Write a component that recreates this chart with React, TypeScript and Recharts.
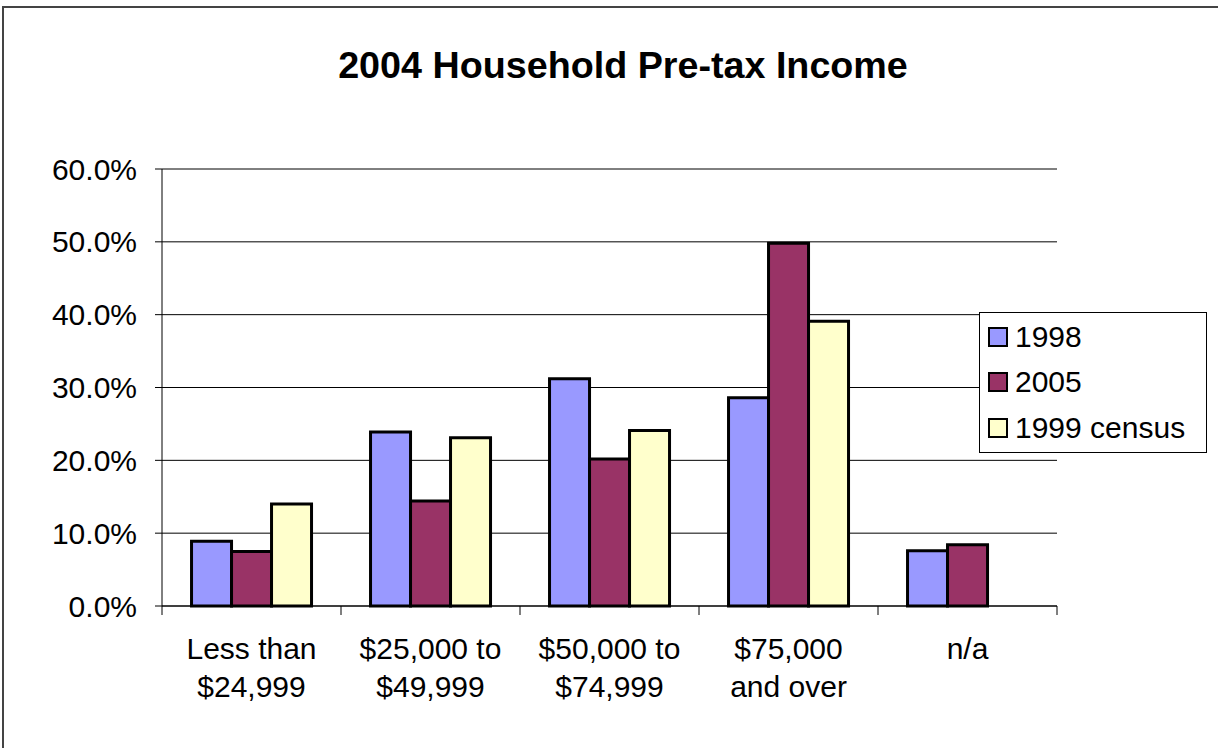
import React from "react";
import { BarChart, Bar, XAxis, YAxis, CartesianGrid, Legend } from "recharts";

// income brackets (line break = second label line)
const categories = [
  "Less than\n$24,999",
  "$25,000 to\n$49,999",
  "$50,000 to\n$74,999",
  "$75,000\nand over",
  "n/a",
];
const pct1998 = [8.9, 23.9, 31.2, 28.6, 7.6];
const pct2005 = [7.5, 14.4, 20.2, 49.8, 8.4];
const pct1999Census = [14.0, 23.1, 24.1, 39.1, null];
const yTicks = [0, 10, 20, 30, 40, 50, 60];

const series = [
  { key: "y1998", name: "1998", color: "#9999FF" },
  { key: "y2005", name: "2005", color: "#993366" },
  { key: "census", name: "1999 census", color: "#FFFFCC" },
];

const data = categories.map((category, i) => ({
  category,
  y1998: pct1998[i],
  y2005: pct2005[i],
  census: pct1999Census[i],
}));

const FONT = '"Liberation Sans", Arial, sans-serif';

function CategoryTick(props: any) {
  const { x, y, payload, index, visibleTicksCount, width } = props;
  const half = width / visibleTicksCount / 2;
  const lines = String(payload.value).split("\n");
  return (
    <g>
      <line x1={x - half} x2={x - half} y1={y - 9} y2={y} stroke="#000" />
      {index === visibleTicksCount - 1 && (
        <line x1={x + half} x2={x + half} y1={y - 9} y2={y} stroke="#000" />
      )}
      <text x={x} y={y} textAnchor="middle" fontSize={30} fill="#000" fontFamily={FONT}>
        {lines.map((l, i) => (
          <tspan key={i} x={x} dy={i === 0 ? 44 : 37.5}>
            {l}
          </tspan>
        ))}
      </text>
    </g>
  );
}

// legend keeps the series order (recharts sorts by name otherwise)
function LegendBox() {
  return (
    <div
      style={{
        border: "1px solid #000",
        background: "#fff",
        padding: "1px 0",
        fontFamily: FONT,
        fontSize: 30,
        color: "#000",
      }}
    >
      {series.map((s) => (
        <div key={s.key} style={{ display: "flex", alignItems: "center", height: 45.5 }}>
          <span
            style={{
              display: "inline-block",
              width: 16,
              height: 16,
              border: "2px solid #000",
              background: s.color,
              marginLeft: 8,
              marginRight: 7,
            }}
          />
          <span style={{ lineHeight: "30px" }}>{s.name}</span>
        </div>
      ))}
    </div>
  );
}

export default function App() {
  return (
    <div
      style={{
        position: "absolute",
        left: 0,
        top: 0,
        width: 1218,
        height: 748,
        overflow: "hidden",
        background: "#fff",
        fontFamily: FONT,
      }}
    >
      {/* outer chart frame, only top/left edges visible */}
      <div
        style={{
          position: "absolute",
          left: 2,
          top: 6,
          width: 1300,
          height: 800,
          border: "2px solid #444",
        }}
      />
      <div
        style={{
          position: "absolute",
          left: 300,
          top: 47,
          width: 646,
          textAlign: "center",
          fontSize: 37.7,
          lineHeight: "37px",
          fontWeight: "bold",
          color: "#000",
        }}
      >
        2004 Household Pre-tax Income
      </div>
      <div style={{ position: "absolute", left: 0, top: 0 }}>
        <BarChart
          width={1218}
          height={748}
          data={data}
          margin={{ top: 169, right: 161, bottom: 42, left: 0 }}
          barGap={0}
          barCategoryGap="16.5%"
        >
          <CartesianGrid vertical={false} stroke="#000" />
          <XAxis
            dataKey="category"
            height={100}
            interval={0}
            tickLine={false}
            tickSize={9}
            tickMargin={0}
            axisLine={{ stroke: "#000" }}
            tick={<CategoryTick />}
          />
          <YAxis
            width={162}
            domain={[0, 60]}
            ticks={yTicks}
            interval={0}
            tickSize={7}
            tickMargin={18}
            tickLine={{ stroke: "#000" }}
            axisLine={{ stroke: "#000" }}
            tickFormatter={(v: number) => v.toFixed(1) + "%"}
            tick={{ fontSize: 30, fill: "#000", fontFamily: FONT }}
          />
          <Legend
            layout="horizontal"
            verticalAlign="middle"
            align="center"
            content={<LegendBox />}
            wrapperStyle={{ left: 979, top: 312, width: 228, height: "auto" }}
          />
          {series.map((s) => (
            <Bar
              key={s.key}
              dataKey={s.key}
              name={s.name}
              fill={s.color}
              stroke="#000"
              strokeWidth={3}
              isAnimationActive={false}
            />
          ))}
        </BarChart>
      </div>
    </div>
  );
}
